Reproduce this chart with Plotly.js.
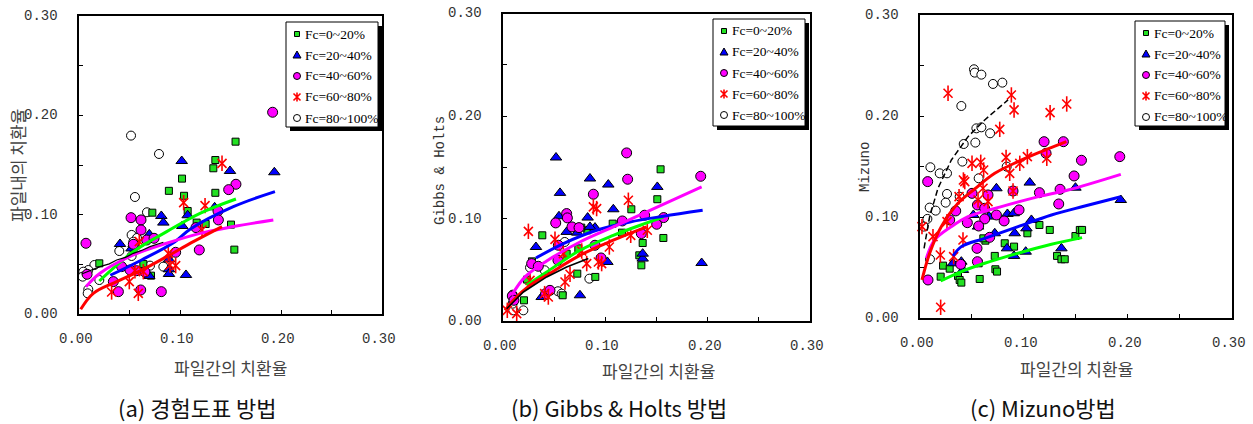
<!DOCTYPE html>
<html><head><meta charset="utf-8">
<script src="https://cdn.plot.ly/plotly-3.0.1.min.js"></script>
<style>html,body{margin:0;padding:0;background:#fff;}#chart{width:1253px;height:424px;}</style>
</head><body><div id="chart"></div>
<script>
// ---------- labels ----------
const groupNames = ['Fc=0~20%','Fc=20~40%','Fc=40~60%','Fc=60~80%','Fc=80~100%'];
const tickVals = [0, 0.1, 0.2, 0.3];
const tickText = ['0.00','0.10','0.20','0.30'];
const minorTickVals = [0.05, 0.15, 0.25];
const xTitle = '파일간의 치환율';
const yTitles = ['파일내의 치환율','Gibbs & Holts','Mizuno'];
const captions = ['(a) 경험도표 방법','(b) Gibbs & Holts 방법','(c) Mizuno방법'];

// ---------- panel (a) points ----------
const aX0 = [0.155,0.135,0.133,0.102,0.104,0.089,0.135,0.0726,0.1076,0.1165,0.1254,0.1505,0.1538,0.0713,0.0201,0.0637];
const aY0 = [0.1735,0.155,0.1467,0.1363,0.119,0.124,0.122,0.102,0.1037,0.092,0.0906,0.09,0.0648,0.0386,0.051,0.0503];
const aX1 = [0.1017,0.1495,0.1934,0.0815,0.0835,0.1076,0.1023,0.1343,0.0406,0.0696,0.0891,0.0891,0.0891,0.1059,0.0541,0.0696,0.052];
const aY1 = [0.154,0.144,0.1427,0.0987,0.092,0.0994,0.0886,0.1074,0.0705,0.0802,0.055,0.045,0.0403,0.0393,0.0702,0.0383,0.066];
const aX2 = [0.1917,0.1554,0.1482,0.1376,0.138,0.1158,0.1191,0.0957,0.0515,0.0614,0.0614,0.0069,0.0538,0.067,0.0743,0.039,0.0611,0.0815,0.034,0.0571,0.0653,0.0422,0.0505,0.008];
const aY2 = [0.2031,0.1306,0.1252,0.1037,0.0947,0.087,0.0645,0.0621,0.097,0.0947,0.0846,0.0712,0.0702,0.0745,0.0762,0.0225,0.0242,0.0225,0.0326,0.0436,0.0423,0.0477,0.0443,0.040];
const aX3 = [0.1416,0.1036,0.1248,0.1218,0.0884,0.0901,0.0957,0.0498,0.0323,0.0587,0.0597,0.0637,0.0554];
const aY3 = [0.1517,0.1121,0.1091,0.0846,0.061,0.0493,0.0487,0.0326,0.0222,0.0208,0.0728,0.0426,0.0436];
const aX4 = [0.0515,0.0792,0.0554,0.0673,0.0521,0.0574,0.0399,0.0703,0.0835,0.0152,0.0092,0.0043,0.0036,0.0092,0.0086,0.0201,0.0521,0.0538];
const aY4 = [0.1796,0.1611,0.1178,0.1024,0.0796,0.0765,0.0634,0.0487,0.0477,0.0493,0.0443,0.0426,0.0376,0.0248,0.0208,0.0342,0.0584,0.0728];
// panel (a) fitted curves
const aFitX0 = [0.0201,0.0538,0.0868,0.1198,0.1554];
const aFitY0 = [0.0332,0.0628,0.0829,0.1014,0.1158];
const aFitX1 = [0.031,0.062,0.095,0.11,0.1528,0.194];
const aFitY1 = [0.039,0.0544,0.0728,0.0853,0.108,0.1232];
const aFitX2 = [0.0069,0.0208,0.0538,0.0868,0.1198,0.1528,0.1924];
const aFitY2 = [0.0275,0.041,0.0594,0.0712,0.0812,0.088,0.0947];
const aFitX3 = [0.0017,0.0142,0.0373,0.0637,0.0868,0.1132,0.1416];
const aFitY3 = [0.0047,0.0208,0.0326,0.045,0.0577,0.0728,0.088];
const aFitX4 = [0.0026,0.012,0.0208,0.03,0.0373,0.046,0.0538,0.062,0.0703,0.0835];
const aFitY4 = [0.0403,0.0445,0.0477,0.0505,0.0544,0.057,0.0611,0.064,0.0678,0.0722];

// ---------- panel (b) points ----------
const bX0 = [0.154,0.1508,0.1254,0.1072,0.1163,0.1365,0.1567,0.1332,0.1352,0.0384,0.0283,0.0235,0.0205,0.0736,0.0726,0.0824,0.0622,0.0583,0.0765,0.0902];
const bY0 = [0.148,0.1188,0.109,0.095,0.0862,0.0761,0.081,0.0641,0.0543,0.0836,0.0582,0.0404,0.0202,0.0709,0.0462,0.0885,0.0657,0.0251,0.0911,0.043];
const bX1 = [0.0518,0.0557,0.085,0.1029,0.1078,0.1508,0.1941,0.1365,0.102,0.0752,0.0378,0.0322,0.0547,0.0622,0.0827,0.0899,0.0726,0.085,0.1365];
const bY1 = [0.1595,0.125,0.139,0.1331,0.109,0.1308,0.0566,0.0609,0.0576,0.0251,0.0234,0.0722,0.1022,0.0869,0.1009,0.0911,0.0862,0.0918,0.0657];
const bX2 = [0.1208,0.1218,0.1932,0.0883,0.0622,0.0629,0.0515,0.0674,0.0743,0.1384,0.157,0.1502,0.1352,0.1166,0.0899,0.0958,0.028,0.0345,0.0417,0.0459,0.0091,0.0541,0.0537,0.0107];
const bY2 = [0.164,0.1383,0.1412,0.1237,0.1048,0.1006,0.0957,0.0918,0.0911,0.1032,0.1009,0.0944,0.0853,0.0976,0.0739,0.0615,0.056,0.0534,0.0267,0.0299,0.0244,0.0739,0.0592,0.0202];
const bX3 = [0.0248,0.0508,0.0883,0.0915,0.1225,0.0769,0.1039,0.1248,0.141,0.0932,0.0964,0.0818,0.0606,0.0655,0.0443,0.0134,0.0042,0.0264,0.059,0.0407];
const bY3 = [0.0875,0.0797,0.1113,0.1097,0.1178,0.0683,0.0722,0.0836,0.0885,0.0576,0.056,0.056,0.0381,0.0456,0.0234,0.0072,0.0104,0.0397,0.0657,0.0267];
const bX4 = [0.0264,0.0407,0.0844,0.0537,0.0573,0.0199,0.0101,0.0094,0.0603,0.0094];
const bY4 = [0.0521,0.0495,0.0413,0.029,0.0267,0.0104,0.0104,0.0169,0.0771,0.0257];
// panel (b) fitted curves
const bFitX0 = [0.0231,0.0427,0.0752,0.1078,0.1404,0.1567];
const bFitY0 = [0.0348,0.0478,0.069,0.0836,0.0957,0.1015];
const bFitX1 = [0.0322,0.059,0.0915,0.1241,0.1567,0.1951];
const bFitY1 = [0.0615,0.0755,0.0885,0.0966,0.1022,0.108];
const bFitX2 = [0.0085,0.0215,0.0427,0.0752,0.1078,0.1404,0.1941];
const bFitY2 = [0.0251,0.043,0.0586,0.0771,0.0918,0.1064,0.1308];
const bFitX3 = [0.002,0.0101,0.0264,0.0427,0.0752,0.1078,0.1404];
const bFitY3 = [0.0104,0.0202,0.0348,0.0446,0.0641,0.0788,0.0918];
const bFitX4 = [0.0036,0.0199,0.0427,0.0622,0.0834];
const bFitY4 = [0.012,0.0283,0.043,0.0527,0.0609];

// ---------- panel (c) points ----------
const cX0 = [0.0199,0.0222,0.0286,0.0366,0.0382,0.0398,0.0575,0.0565,0.063,0.072,0.0726,0.0742,0.0816,0.0906,0.1034,0.115,0.125,0.132,0.1362,0.1394,0.1497,0.1539,0.1561,0.061];
const cY0 = [0.0412,0.0521,0.0491,0.0419,0.0379,0.0353,0.0389,0.0544,0.0768,0.0617,0.0485,0.0462,0.0742,0.0709,0.0841,0.0923,0.0874,0.0617,0.0584,0.0584,0.0814,0.0874,0.0874,0.0791];
const cX1 = [0.1057,0.1497,0.1934,0.0736,0.0514,0.0665,0.0842,0.0903,0.0559,0.1073,0.1025,0.0912,0.072,0.0838,0.0906,0.1018,0.1362,0.0318,0.0398,0.0414];
const cY1 = [0.1342,0.1292,0.117,0.1286,0.1022,0.1006,0.1032,0.1039,0.0907,0.0973,0.089,0.0841,0.0841,0.0692,0.0617,0.0659,0.0692,0.0544,0.056,0.0478];
const cX2 = [0.0074,0.1924,0.1381,0.1195,0.1555,0.1484,0.1214,0.1336,0.115,0.1349,0.0954,0.081,0.0736,0.0655,0.0501,0.0344,0.0286,0.0456,0.0553,0.0623,0.0623,0.0565,0.0671,0.0549,0.0553,0.0392,0.0077,0.0896];
const cY2 = [0.1352,0.1599,0.1747,0.1747,0.1563,0.1408,0.1632,0.1131,0.1243,0.1276,0.1072,0.0963,0.1022,0.122,0.1236,0.1062,0.0973,0.0946,0.1121,0.1088,0.0983,0.0913,0.0801,0.0692,0.056,0.0534,0.0379,0.1259];
const cX3 = [0.027,0.088,0.0906,0.1413,0.1253,0.0768,0.0501,0.0585,0.0613,0.0829,0.0864,0.0961,0.1034,0.1221,0.0418,0.0431,0.0376,0.0559,0.0655,0.0896,0.0607,0.026,0.0414,0.0125,0.0019,0.0196,0.0324,0.0199];
const cY3 = [0.2226,0.2209,0.2061,0.212,0.2034,0.1869,0.1533,0.1543,0.1467,0.1592,0.1434,0.1533,0.1599,0.1583,0.1368,0.1352,0.1203,0.117,0.1154,0.1259,0.1286,0.0956,0.0775,0.0808,0.0907,0.0626,0.061,0.0109];
const cX4 = [0.052,0.0527,0.0591,0.0703,0.0793,0.0398,0.0675,0.0543,0.0591,0.0421,0.0533,0.0408,0.0835,0.01,0.019,0.026,0.0565,0.026,0.0247,0.0093,0.0151,0.0071,0.0035,0.0096,0.0382];
const cY4 = [0.2463,0.243,0.241,0.2318,0.2331,0.21,0.183,0.1879,0.1889,0.1724,0.1738,0.155,0.15,0.1494,0.1434,0.1434,0.1385,0.123,0.1144,0.1095,0.1065,0.0983,0.0907,0.0584,0.1203];
// panel (c) fitted curves
const cFitX0 = [0.0199,0.0398,0.0623,0.0944,0.1266,0.1561];
const cFitY0 = [0.0369,0.0462,0.0544,0.0643,0.0732,0.0798];
const cFitX1 = [0.0318,0.0398,0.0623,0.0944,0.1266,0.1587,0.1934];
const cFitY1 = [0.0617,0.0709,0.0791,0.0907,0.1022,0.1111,0.1203];
const cFitX2 = [0.0061,0.0141,0.0302,0.0463,0.0784,0.1105,0.1426,0.1934];
const cFitY2 = [0.0593,0.0775,0.0907,0.1006,0.1105,0.1194,0.1269,0.1424];
const cFitX3 = [0.0019,0.0093,0.0206,0.0366,0.0527,0.072,0.0944,0.1169,0.141];
const cFitY3 = [0.0379,0.0643,0.0907,0.1137,0.1279,0.1434,0.155,0.1649,0.1747];
const cFitX4 = [0.0039,0.0093,0.0173,0.0302,0.0463,0.0623,0.0848];
const cFitY4 = [0.0692,0.1006,0.1286,0.1566,0.1797,0.1962,0.216];

// ---------- styles ----------
const W = 1253, H = 424;
const fx = v => v / W;
const fy = v => 1 - v / H;

const fillColors = ['#22e022','#0000ff','#ff00ff','#ff0000','#ffffff'];
const markerStyles = [
  {symbol:'square', size:7, color:fillColors[0], line:{color:'#000', width:1}},
  {symbol:'triangle-up', size:10, color:fillColors[1], line:{color:'#000', width:1}},
  {symbol:'circle', size:10, color:fillColors[2], line:{color:'#000', width:1}},
  {symbol:'x-thin-open', size:9, color:'#ff0000', line:{color:'#ff0000', width:1.6}},
  {symbol:'circle', size:9, color:fillColors[4], line:{color:'#000', width:1}}
];
const lineColors = ['#00ff00','#0000ff','#ff00ff','#ff0000','#000000'];
const tickFont = {family: 'Liberation Mono, monospace', size: 14, color: '#333'};

const panels = [
  {xs:[aX0,aX1,aX2,aX3,aX4], ys:[aY0,aY1,aY2,aY3,aY4],
   fx:[aFitX0,aFitX1,aFitX2,aFitX3,aFitX4], fy:[aFitY0,aFitY1,aFitY2,aFitY3,aFitY4],
   blackLine:{width:1.2, dash:'solid'},
   box:[79,16,382,314], legendBox:[286,22,378,127],
   yTitlePos:[17,166], xTitlePos:[230,367], captionPos:[197,407]},
  {xs:[bX0,bX1,bX2,bX3,bX4], ys:[bY0,bY1,bY2,bY3,bY4],
   fx:[bFitX0,bFitX1,bFitX2,bFitX3,bFitX4], fy:[bFitY0,bFitY1,bFitY2,bFitY3,bFitY4],
   blackLine:{width:1.6, dash:'solid'},
   box:[503,13.5,810,321], legendBox:[713,19,805,126],
   yTitlePos:[440,171], xTitlePos:[658,370], captionPos:[619,407]},
  {xs:[cX0,cX1,cX2,cX3,cX4], ys:[cY0,cY1,cY2,cY3,cY4],
   fx:[cFitX0,cFitX1,cFitX2,cFitX3,cFitX4], fy:[cFitY0,cFitY1,cFitY2,cFitY3,cFitY4],
   blackLine:{width:1.5, dash:'6px,3px'},
   box:[920,15,1231.5,318.3], legendBox:[1135,21,1225,126],
   yTitlePos:[865,167], xTitlePos:[1076,368], captionPos:[1043,407]}
];

const traces = [];
const layout = {
  width: W, height: H,
  margin: {l:0, r:0, t:0, b:0},
  paper_bgcolor: '#fff', plot_bgcolor: '#fff',
  showlegend: false,
  annotations: [], shapes: []
};

function axisDef(domain) {
  return {
    domain: domain, range: [0, 0.3], tickmode: 'array', tickvals: tickVals, ticktext: tickText,
    showticklabels: false,
    ticks: 'inside', ticklen: 4, tickwidth: 1, tickcolor: '#000',
    minor: {tickmode: 'array', tickvals: minorTickVals, ticks: 'inside', ticklen: 4, tickwidth: 1, tickcolor: '#000', showgrid: false},
    showline: true, linewidth: 2, linecolor: '#000', mirror: true,
    showgrid: false, zeroline: false, fixedrange: true
  };
}

// legend symbol drawn as layout shapes (paper coordinates)
function legendSymbolShapes(k, cx, cy) {
  const P = (x, y) => fx(x) + ',' + fy(y);
  const base = {xref:'paper', yref:'paper', layer:'above'};
  if (k === 0) return [Object.assign({type:'rect', x0:fx(cx-2.5), x1:fx(cx+2.5), y0:fy(cy+2.5), y1:fy(cy-2.5),
      fillcolor:fillColors[0], line:{color:'#000', width:1}}, base)];
  if (k === 1) return [Object.assign({type:'path', path:'M'+P(cx,cy-4)+' L'+P(cx+4,cy+3)+' L'+P(cx-4,cy+3)+' Z',
      fillcolor:fillColors[1], line:{color:'#000', width:1}}, base)];
  if (k === 2 || k === 4) return [Object.assign({type:'circle', x0:fx(cx-3.5), x1:fx(cx+3.5), y0:fy(cy+3.5), y1:fy(cy-3.5),
      fillcolor:fillColors[k], line:{color:'#000', width:1}}, base)];
  return [Object.assign({type:'path', path:'M'+P(cx-3.5,cy-3.5)+' L'+P(cx+3.5,cy+3.5)+' M'+P(cx-3.5,cy+3.5)+' L'+P(cx+3.5,cy-3.5)+' M'+P(cx,cy-4.5)+' L'+P(cx,cy+4.5),
      line:{color:'#ff0000', width:1.6}}, base)];
}

const drawOrder = [4, 0, 1, 2, 3];
panels.forEach((p, i) => {
  const sfx = i === 0 ? '' : String(i + 1);
  layout['xaxis' + sfx] = Object.assign(axisDef([fx(p.box[0]), fx(p.box[2])]), {anchor: 'y' + sfx});
  layout['yaxis' + sfx] = Object.assign(axisDef([fy(p.box[3]), fy(p.box[1])]), {anchor: 'x' + sfx});

  // tick labels placed at the tick values, offset from the axes like the reference
  tickVals.forEach((v, t) => {
    layout.annotations.push({text: tickText[t], xref:'paper', yref:'y' + sfx, x: fx(p.box[0] - 19), y: v,
      xanchor:'right', yanchor:'middle', showarrow:false, font: tickFont});
    layout.annotations.push({text: tickText[t], xref:'x' + sfx, yref:'paper', x: v, y: fy(p.box[3] + 25),
      xanchor:'center', yanchor:'middle', xshift:-3, showarrow:false, font: tickFont});
  });

  drawOrder.forEach(k => {
    traces.push({
      type: 'scatter', mode: 'markers', x: p.xs[k], y: p.ys[k],
      xaxis: 'x' + sfx, yaxis: 'y' + sfx, name: groupNames[k],
      marker: markerStyles[k], cliponaxis: false, hoverinfo: 'skip'
    });
    if (k === 3) {
      // vertical stroke completing the six-armed star of the Fc=60~80% marks
      traces.push({
        type: 'scatter', mode: 'markers', x: p.xs[k], y: p.ys[k],
        xaxis: 'x' + sfx, yaxis: 'y' + sfx, name: groupNames[k], showlegend: false,
        marker: {symbol:'line-ns-open', size:11, color:'#ff0000', line:{color:'#ff0000', width:1.6}},
        cliponaxis: false, hoverinfo: 'skip'
      });
    }
  });
  for (let k = 0; k < 5; k++) {
    const isBlack = k === 4;
    traces.push({
      type: 'scatter', mode: 'lines', x: p.fx[k], y: p.fy[k],
      xaxis: 'x' + sfx, yaxis: 'y' + sfx, showlegend: false, name: groupNames[k] + ' fit',
      line: isBlack ? {color: lineColors[k], width: p.blackLine.width, dash: p.blackLine.dash}
                    : {color: lineColors[k], width: 3, shape: 'spline'},
      hoverinfo: 'skip'
    });
  }

  // legend frame with drop shadow
  const lb = p.legendBox;
  layout.shapes.push({type:'rect', xref:'paper', yref:'paper', x0:fx(lb[0]+4), x1:fx(lb[2]+4), y0:fy(lb[3]+4), y1:fy(lb[1]+4),
    fillcolor:'#000', line:{width:0}, layer:'above'});
  layout.shapes.push({type:'rect', xref:'paper', yref:'paper', x0:fx(lb[0]), x1:fx(lb[2]), y0:fy(lb[3]), y1:fy(lb[1]),
    fillcolor:'#fff', line:{color:'#000', width:1}, layer:'above'});
  groupNames.forEach((name, k) => {
    const cy = lb[1] + 12 + k * 21;
    legendSymbolShapes(k, lb[0] + 11, cy).forEach(s => layout.shapes.push(s));
    layout.annotations.push({text: name, xref:'paper', yref:'paper', x: fx(lb[0] + 17), y: fy(cy),
      xanchor:'left', yanchor:'middle', showarrow:false,
      font: {family:'Liberation Serif, serif', size:13.5, color:'#000'}});
  });

  layout.annotations.push({text: yTitles[i], xref:'paper', yref:'paper', x: fx(p.yTitlePos[0]), y: fy(p.yTitlePos[1]),
    xanchor:'center', yanchor:'middle', textangle: -90, showarrow:false,
    font: i === 0 ? {family:'Noto Sans CJK KR', size:17, color:'#444'} : {family:'Liberation Mono, monospace', size:14, color:'#333'}});
  layout.annotations.push({text: xTitle, xref:'paper', yref:'paper', x: fx(p.xTitlePos[0]), y: fy(p.xTitlePos[1]),
    xanchor:'center', yanchor:'middle', showarrow:false,
    font: {family:'Noto Sans CJK KR', size:17, color:'#444'}});
  layout.annotations.push({text: captions[i], xref:'paper', yref:'paper', x: fx(p.captionPos[0]), y: fy(p.captionPos[1]),
    xanchor:'center', yanchor:'middle', showarrow:false,
    font: {family:'Noto Sans CJK KR', size:22, color:'#111'}});
});

Plotly.newPlot('chart', traces, layout, {displayModeBar: false, staticPlot: true});
</script></body></html>
